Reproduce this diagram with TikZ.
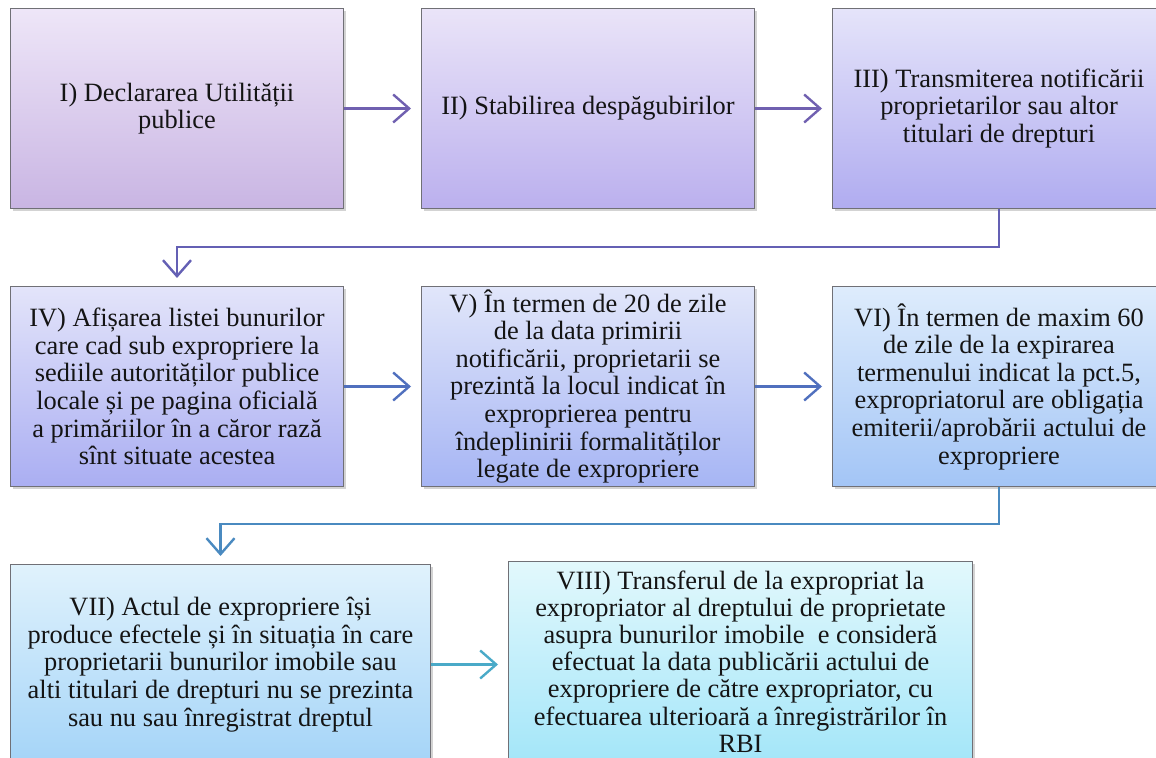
\documentclass[tikz,border=0pt]{standalone}
\usepackage{fontspec}
\setmainfont{Liberation Serif}
\usepackage{tikz}
\usetikzlibrary{positioning,arrows.meta,shadows}
\definecolor{colortext}     {RGB}{20 ,20 ,20 }
\definecolor{colorborder}   {RGB}{112,112,118}
\definecolor{colorunutop}   {RGB}{238,230,248}
\definecolor{colorunubot}   {RGB}{201,181,227}
\definecolor{colordoitop}   {RGB}{234,228,248}
\definecolor{colordoibot}   {RGB}{187,176,238}
\definecolor{colortreitop}  {RGB}{229,228,250}
\definecolor{colortreibot}  {RGB}{176,172,240}
\definecolor{colorpatrutop} {RGB}{227,228,250}
\definecolor{colorpatrubot} {RGB}{170,174,242}
\definecolor{colorcincitop} {RGB}{225,230,250}
\definecolor{colorcincibot} {RGB}{166,181,244}
\definecolor{colorsasetop}  {RGB}{222,236,252}
\definecolor{colorsasebot}  {RGB}{163,197,246}
\definecolor{colorsaptetop} {RGB}{224,242,252}
\definecolor{colorsaptebot} {RGB}{164,212,248}
\definecolor{coloropttop}   {RGB}{226,248,252}
\definecolor{coloroptbot}   {RGB}{164,230,249}
\definecolor{colorarrowa}   {RGB}{112,96 ,176}
\definecolor{colorarrowb}   {RGB}{100,96 ,180}
\definecolor{colorarrowc}   {RGB}{80 ,112,190}
\definecolor{colorarrowd}   {RGB}{74 ,138,192}
\definecolor{colorarrowe}   {RGB}{74 ,170,200}

\begin{document}
\begin{tikzpicture}[
    node distance = 38.5pt, auto,
    font={\rmfamily\fontsize{13.2}{13.8}\selectfont},
    box/.style={draw=colorborder,line width=0.5pt,text=colortext,align=center,
        minimum width=166.5pt,minimum height=100pt,inner sep=1pt,
        drop shadow={shadow xshift=1pt,shadow yshift=-1.5pt,opacity=0.35}},
    arr/.style={-{Straight Barb[length=8pt,width=14pt]},line width=1.2pt,shorten >=5pt},
]

    \useasboundingbox (0,0) rectangle (578pt,-379pt);

    \node[box,top color=colorunutop,bottom color=colorunubot,anchor=north west]
        at (5pt,-4pt)                 (decl)  {I) Declararea Utilității\\publice};
    \node[box,top color=colordoitop,bottom color=colordoibot,right=of decl]
                                      (stab)  {II) Stabilirea despăgubirilor};
    \node[box,top color=colortreitop,bottom color=colortreibot,right=of stab]
                                      (notif) {III) Transmiterea notificării\\proprietarilor sau altor\\titulari de drepturi};

    \node[box,top color=colorpatrutop,bottom color=colorpatrubot,below=of decl]
                                      (afis)  {IV) Afișarea listei bunurilor\\care cad sub expropriere la\\sediile autorităților publice\\locale și pe pagina oficială\\a primăriilor în a căror rază\\sînt situate acestea};
    \node[box,top color=colorcincitop,bottom color=colorcincibot,right=of afis]
                                      (prez)  {V) În termen de 20 de zile\\de la data primirii\\notificării, proprietarii se\\prezintă la locul indicat în\\exproprierea pentru\\îndeplinirii formalităților\\legate de expropriere};
    \node[box,top color=colorsasetop,bottom color=colorsasebot,right=of prez]
                                      (emit)  {VI) În termen de maxim 60\\de zile de la expirarea\\termenului indicat la pct.5,\\expropriatorul are obligația\\emiterii/aprobării actului de\\expropriere};

    \node[box,top color=colorsaptetop,bottom color=colorsaptebot,minimum width=210pt,
        below=of afis.south west,anchor=north west]
                                      (act)   {VII) Actul de expropriere își\\produce efectele și în situația în care\\proprietarii bunurilor imobile sau\\alti titulari de drepturi nu se prezinta\\sau nu sau înregistrat dreptul};
    \node[box,top color=coloropttop,bottom color=coloroptbot,minimum width=232pt,
        font={\rmfamily\fontsize{13.2}{13.6}\selectfont},right=of act,yshift=1.5pt]
                                      (transf){VIII) Transferul de la expropriat la\\expropriator al dreptului de proprietate\\asupra bunurilor imobile \ e consideră\\efectuat la data publicării actului de\\expropriere de către expropriator, cu\\efectuarea ulterioară a înregistrărilor în\\RBI};

    \draw[arr,colorarrowa] (decl)  -- (stab);
    \draw[arr,colorarrowa] (stab)  -- (notif);
    \draw[arr,colorarrowb,shorten >=4pt] (notif.south) -- ++(0,-19pt) -| (afis.north);
    \draw[arr,colorarrowc] (afis)  -- (prez);
    \draw[arr,colorarrowc] (prez)  -- (emit);
    \draw[arr,colorarrowd,shorten >=4pt] (emit.south) -- ++(0,-18.5pt) -| (act.north);
    \draw[arr,colorarrowe] (act)   -- (act -| transf.west);

\end{tikzpicture}
\end{document}
